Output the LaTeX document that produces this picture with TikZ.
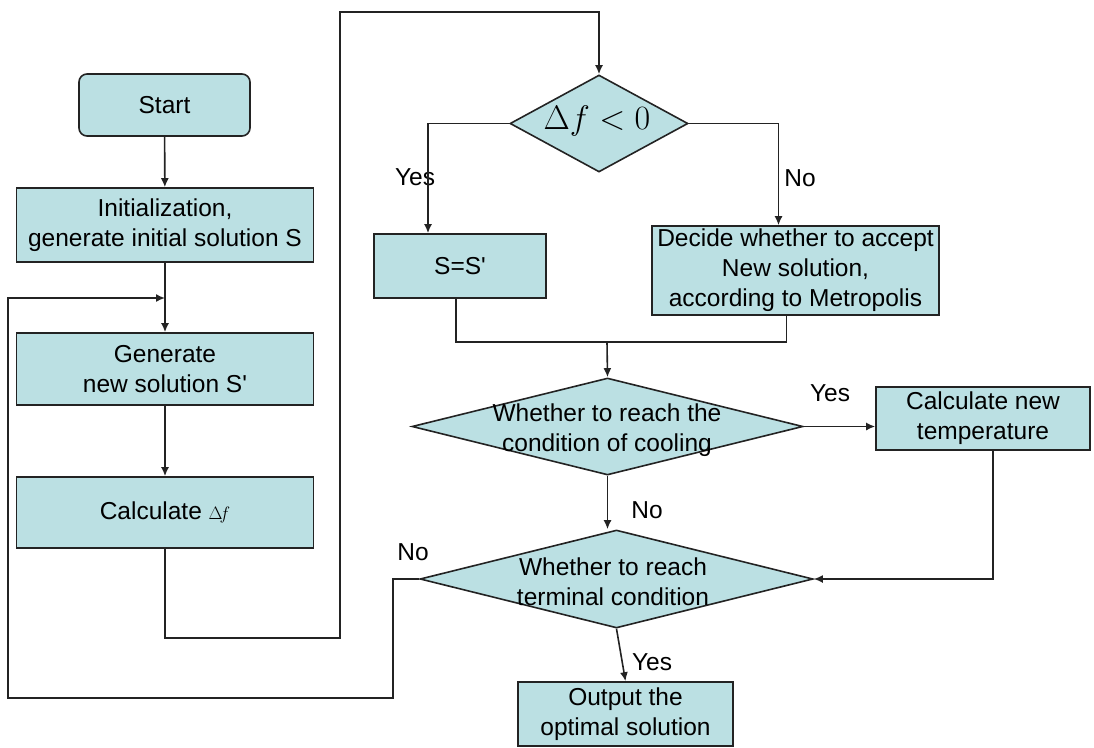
\RequirePackage{fix-cm}
\documentclass[tikz,border=0pt]{standalone}
\usepackage{fontspec}
\setmainfont{Liberation Sans}
\usetikzlibrary{shapes.geometric,arrows.meta}
\definecolor{boxfill}{RGB}{187,224,227}
\definecolor{edge}{RGB}{35,35,35}
\begin{document}
\begin{tikzpicture}[x=1pt,y=-1pt,
  every node/.style={font=\fontsize{24.5}{30}\selectfont},
  box/.style={draw=edge, fill=boxfill, line width=1.6pt, inner sep=0pt, align=center},
  dia/.style={draw=edge, fill=boxfill, line width=1.6pt, diamond, inner sep=0pt},
  lbl/.style={inner sep=0pt, align=center},
  arr/.style={draw=edge, line width=1.6pt, -{Latex[length=9pt,width=8pt]}},
  con/.style={draw=edge, line width=1.6pt},
]
\useasboundingbox (0,0) rectangle (1094,747);

% left column
\node[box, rounded corners=8pt, minimum width=171pt, minimum height=62pt] (start) at (164.5,105) {Start};
\node[box, minimum width=297pt, minimum height=74pt] (init) at (165,225) {Initialization,\\generate initial solution S};
\node[box, minimum width=297pt, minimum height=72pt] (gen) at (165,369) {Generate\\new solution S\textquotesingle};
\node[box, minimum width=297pt, minimum height=71pt] (calc) at (165,512.5) {Calculate {\fontsize{18}{18}\selectfont$\Delta\!f$}};

% first decision
\node[dia, minimum width=178pt, minimum height=97pt] (df) at (599,123.5) {};
\node[lbl] (dft) at (597,121) {\fontsize{34}{34}\selectfont$\Delta f<0$};
\node[box, minimum width=172pt, minimum height=64pt] (ss) at (460,266) {S=S\textquotesingle};
\node[box, minimum width=287pt, minimum height=89pt] (dec) at (795.5,270.5) {Decide whether to accept\\New solution,\\according to Metropolis};

% cooling decision
\node[dia, minimum width=391pt, minimum height=97pt] (cool) at (607.5,426.5) {};
\node[lbl] (coolt) at (607,430) {Whether to reach the\\condition of cooling};
\node[box, minimum width=214pt, minimum height=63pt] (temp) at (983,418.5) {Calculate new\\temperature};

% terminal decision
\node[dia, minimum width=393pt, minimum height=98pt] (term) at (616.5,579) {};
\node[lbl] (termt) at (613,582) {Whether to reach\\terminal condition};
\node[box, minimum width=215pt, minimum height=64pt] (out) at (625.5,714) {Output the\\optimal solution};

% branch labels
\node[lbl] (yes1) at (415,177) {Yes};
\node[lbl] (no1) at (800,178) {No};
\node[lbl] (yes2) at (830,393) {Yes};
\node[lbl] (no2) at (647,510) {No};
\node[lbl] (no3) at (413,552) {No};
\node[lbl] (yes3) at (652,662) {Yes};

% routing points
\coordinate (join) at (165,298);
\coordinate (c1) at (340,638);
\coordinate (c2) at (340,12);
\coordinate (merge) at (607,342);
\coordinate (n1) at (393,698);
\coordinate (n2) at (8,698);

% connectors
\draw[arr] (start) -- (init);
\draw[con] (init.south) -- (join);
\draw[arr] (join) -- (gen.north);
\draw[arr] (gen) -- (calc);
\draw[arr] (calc.south) |- (c1) -- (c2) -| (df.north);
\draw[arr] (df.west) -| ([xshift=-32pt]ss.north);
\draw[arr] (df.east) -| ([xshift=-17pt]dec.north);
\draw[con] ([xshift=-4pt]ss.south) |- (merge) -| ([xshift=-9pt]dec.south);
\draw[arr] (merge) -- (cool.north);
\draw[arr] (cool.east) -- (cool.east -| temp.west);
\draw[arr] ([xshift=10pt]temp.south) |- (term.east);
\draw[arr] (cool.south) -- (cool.south |- term.north);
\draw[arr] (term.south) -- (out.north);
\draw[arr] (term.west) -| (n1) -- (n2) |- (join);
\end{tikzpicture}
\end{document}
